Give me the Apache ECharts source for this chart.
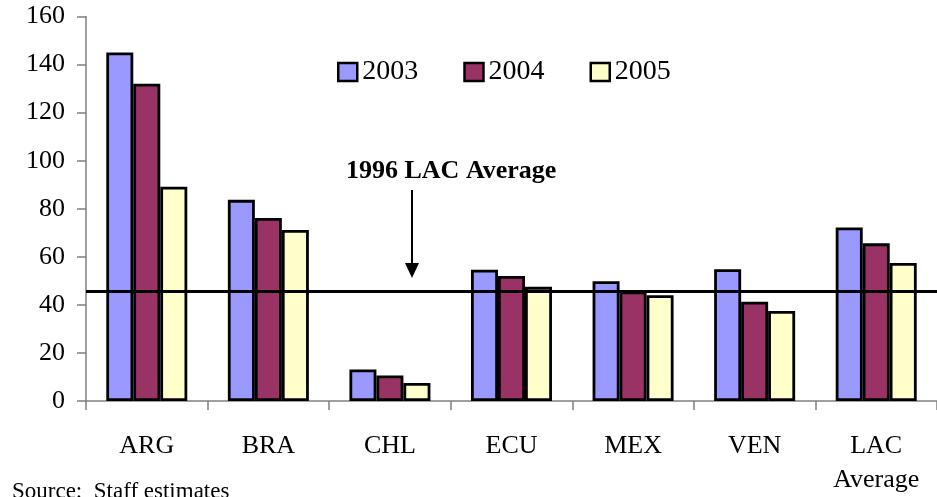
<!DOCTYPE html>
<html>
<head>
<meta charset="utf-8">
<script src="https://cdn.jsdelivr.net/npm/echarts@6/dist/echarts.min.js"></script>
<style>
  html, body { margin: 0; padding: 0; background: #fff; }
  #chart { width: 937px; height: 497px; }
</style>
</head>
<body>
<div id="chart"></div>
<script>
// Country groups along the x axis
const categories = ['ARG', 'BRA', 'CHL', 'ECU', 'MEX', 'VEN', 'LAC\nAverage'];
// Yearly values per country
const years = ['2003', '2004', '2005'];
const values2003 = [145, 83.7, 13.1, 54.6, 49.8, 54.8, 72.2];
const values2004 = [132, 76.2, 10.6, 52.0, 45.6, 41.3, 65.6];
const values2005 = [89.2, 71.2, 7.5, 47.5, 44.0, 37.5, 57.4];
// Reference level for the 1996 regional average
const avg1996 = 45.6;
const yTicks = { min: 0, max: 160, interval: 20 };

const colors = ['#9999FF', '#993366', '#FFFFCC'];
const serif = '"Liberation Serif", "Times New Roman", serif';

const chart = echarts.init(document.getElementById('chart'));

function barSeries(name, data, idx) {
  return {
    name: name,
    type: 'bar',
    data: data,
    barWidth: 27,
    barGap: '0%',
    itemStyle: { color: colors[idx], borderColor: '#000', borderWidth: 2.8 },
    emphasis: { disabled: true }
  };
}

const series = [
  barSeries(years[0], values2003, 0),
  barSeries(years[1], values2004, 1),
  barSeries(years[2], values2005, 2)
];
series[2].markLine = {
  silent: true,
  symbol: 'none',
  label: { show: false },
  lineStyle: { color: '#000', width: 3, type: 'solid' },
  data: [{ yAxis: avg1996 }],
  z: 10
};

chart.setOption({
  animation: false,
  backgroundColor: '#fff',
  textStyle: { fontFamily: serif },
  grid: { left: 86, top: 16.5, width: 855, height: 388 },
  legend: {
    data: years,
    left: 332,
    top: 53,
    itemWidth: 19,
    itemHeight: 18,
    itemGap: 45,
    icon: 'rect',
    itemStyle: { borderColor: '#000', borderWidth: 2.5 },
    textStyle: { fontFamily: serif, fontSize: 28, color: '#000', padding: [0, 0, 0, 0] }
  },
  xAxis: {
    type: 'category',
    data: categories,
    axisLine: { lineStyle: { color: '#808080', width: 1.5 } },
    axisTick: { show: true, length: 9, lineStyle: { color: '#808080', width: 1.5 } },
    axisLabel: { color: '#000', fontSize: 26, fontFamily: serif, margin: 28, lineHeight: 34 },
    splitLine: { show: false }
  },
  yAxis: {
    type: 'value',
    min: yTicks.min,
    max: yTicks.max,
    interval: yTicks.interval,
    axisLine: { show: true, lineStyle: { color: '#808080', width: 1.5 } },
    axisTick: { show: true, length: 9, lineStyle: { color: '#808080', width: 1.5 } },
    axisLabel: { color: '#000', fontSize: 26, fontFamily: serif, margin: 21 },
    splitLine: { show: false }
  },
  graphic: [
    {
      type: 'text',
      left: 346,
      top: 158,
      style: { text: '1996 LAC Average', font: 'bold 26px ' + serif, fill: '#000' }
    },
    {
      type: 'line',
      shape: { x1: 412, y1: 190, x2: 412, y2: 266 },
      style: { stroke: '#000', lineWidth: 2 }
    },
    {
      type: 'polygon',
      shape: { points: [[405, 263], [419, 263], [412, 278]] },
      style: { fill: '#000' }
    },
    {
      type: 'text',
      left: 12,
      top: 480,
      style: { text: 'Source:  Staff estimates', font: '23px ' + serif, fill: '#000' }
    }
  ],
  series: series
});
</script>
</body>
</html>
